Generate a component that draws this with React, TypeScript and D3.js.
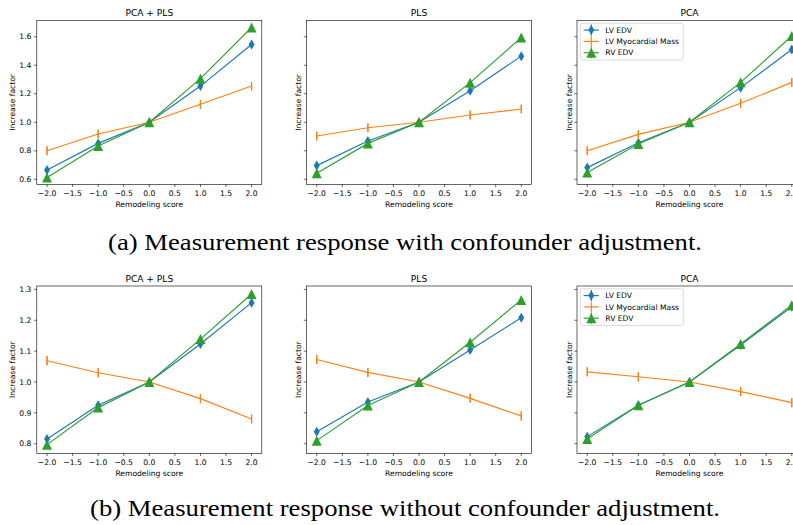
import React from 'react';
import * as d3 from 'd3';

// remodeling scores on the x axis
const scores = [-2, -1, 0, 1, 2];
const xTicks = [-2, -1.5, -1, -0.5, 0, 0.5, 1, 1.5, 2];
const panelTitles = ['PCA + PLS', 'PLS', 'PCA'];
const seriesNames = ['LV EDV', 'LV Myocardial Mass', 'RV EDV'];
const seriesColors = ['#1f77b4', '#ff7f0e', '#2ca02c'];

// (a) with confounder adjustment, one row per panel
const withLvEdv = [
  [0.665, 0.852, 1.0, 1.254, 1.546],
  [0.696, 0.869, 1.0, 1.221, 1.464],
  [0.682, 0.857, 1.0, 1.243, 1.511],
];
const withMass = [
  [0.8, 0.918, 1.0, 1.126, 1.254],
  [0.904, 0.962, 1.0, 1.051, 1.093],
  [0.8, 0.915, 1.0, 1.133, 1.28],
];
const withRvEdv = [
  [0.613, 0.834, 1.0, 1.306, 1.665],
  [0.642, 0.852, 1.0, 1.278, 1.595],
  [0.647, 0.848, 1.0, 1.28, 1.605],
];
const withErr = [0.02, 0.03, 0.01];
const withYTicks = [0.6, 0.8, 1.0, 1.2, 1.4, 1.6];

// (b) without confounder adjustment
const withoutLvEdv = [
  [0.815, 0.925, 1.0, 1.123, 1.257],
  [0.839, 0.935, 1.0, 1.104, 1.208],
  [0.823, 0.925, 1.0, 1.12, 1.244],
];
const withoutMass = [
  [1.069, 1.03, 1.0, 0.946, 0.88],
  [1.073, 1.031, 1.0, 0.947, 0.89],
  [1.033, 1.017, 1.0, 0.969, 0.933],
];
const withoutRvEdv = [
  [0.797, 0.917, 1.0, 1.139, 1.285],
  [0.81, 0.924, 1.0, 1.129, 1.266],
  [0.815, 0.925, 1.0, 1.123, 1.249],
];
const withoutErr = [0.01, 0.015, 0.005];
const withoutYTicks = [0.8, 0.9, 1.0, 1.1, 1.2, 1.3];

const captions = [
  '(a) Measurement response with confounder adjustment.',
  '(b) Measurement response without confounder adjustment.',
];

const FONT = 'DejaVu Sans';
const fs = 7.6;
const panelLefts = [36.8, 306.5, 577];
const panelW = 225;
const tickLen = 2.7;

const fmt = (v: number) => d3.format('.1f')(v).replace('-', '\u2212');

function Marker({ kind, x, y, color }: { kind: number; x: number; y: number; color: string }) {
  if (kind === 0) {
    return <path d={`M${x},${y - 5}L${x + 3},${y}L${x},${y + 5}L${x - 3},${y}Z`} fill={color} />;
  }
  if (kind === 2) {
    return <path d={`M${x},${y - 5}L${x + 5},${y + 5}L${x - 5},${y + 5}Z`} fill={color} />;
  }
  return null;
}

function Panel(props: {
  idx: number;
  top: number;
  bottom: number;
  domain: [number, number];
  yTicks: number[];
  series: number[][];
  err: number[];
  legend: boolean;
}) {
  const left = panelLefts[props.idx];
  const x = d3.scaleLinear().domain([-2.2, 2.2]).range([left, left + panelW]);
  const y = d3.scaleLinear().domain(props.domain).range([props.bottom, props.top]);
  const line = d3.line<number>().x((_, i) => x(scores[i])).y((d) => y(d));
  const midY = (props.top + props.bottom) / 2;

  return (
    <g fontFamily={FONT}>
      <text x={left + panelW / 2} y={props.top - 4.4} fontSize={9.1} textAnchor="middle">
        {panelTitles[props.idx]}
      </text>
      {props.series.map((vals, s) => (
        <g key={s}>
          <path d={line(vals) || ''} fill="none" stroke={seriesColors[s]} strokeWidth={1.15} />
          {vals.map((v, i) => (
            <g key={i}>
              <line
                x1={x(scores[i])}
                x2={x(scores[i])}
                y1={y(v - props.err[s])}
                y2={y(v + props.err[s])}
                stroke={seriesColors[s]}
                strokeWidth={1.15}
              />
              {s === 1 && (
                <line x1={x(scores[i])} x2={x(scores[i])} y1={y(v) - 4.5} y2={y(v) + 4.5} stroke={seriesColors[s]} strokeWidth={1.15} />
              )}
              <Marker kind={s} x={x(scores[i])} y={y(v)} color={seriesColors[s]} />
            </g>
          ))}
        </g>
      ))}
      <rect x={left} y={props.top} width={panelW} height={props.bottom - props.top} fill="none" stroke="#000" strokeWidth={0.6} />
      {xTicks.map((t) => (
        <g key={t}>
          <line x1={x(t)} x2={x(t)} y1={props.bottom} y2={props.bottom + tickLen} stroke="#000" strokeWidth={0.6} />
          <text x={x(t)} y={props.bottom + 11.2} fontSize={fs} textAnchor="middle">
            {fmt(t)}
          </text>
        </g>
      ))}
      {props.yTicks.map((t) => (
        <g key={t}>
          <line x1={left - tickLen} x2={left} y1={y(t)} y2={y(t)} stroke="#000" strokeWidth={0.6} />
          {props.idx === 0 && (
            <text x={left - 5.4} y={y(t) + 2.7} fontSize={fs} textAnchor="end">
              {fmt(t)}
            </text>
          )}
        </g>
      ))}
      <text x={left + panelW / 2} y={props.bottom + 22.5} fontSize={fs} textAnchor="middle">
        Remodeling score
      </text>
      <text
        transform={`translate(${props.idx === 0 ? left - 21.5 : left - 5.5},${midY}) rotate(-90)`}
        fontSize={fs}
        textAnchor="middle"
      >
        Increase factor
      </text>
      {props.legend && (
        <g transform={`translate(${left + 3.3},${props.top + 2.8})`}>
          <rect x={0} y={0} width={103} height={36.7} rx={2} fill="#fff" fillOpacity={0.8} stroke="#cccccc" strokeWidth={0.7} />
          {seriesNames.map((name, s) => {
            const cy = 6.8 + s * 11.3;
            return (
              <g key={name}>
                <line x1={3.3} x2={18.6} y1={cy} y2={cy} stroke={seriesColors[s]} strokeWidth={1.15} />
                <line x1={11} x2={11} y1={cy - 5.5} y2={cy + 5.5} stroke={seriesColors[s]} strokeWidth={1.15} />
                <Marker kind={s} x={11} y={cy} color={seriesColors[s]} />
                <text x={25} y={cy + 2.7} fontSize={fs}>
                  {name}
                </text>
              </g>
            );
          })}
        </g>
      )}
    </g>
  );
}

export default function App() {
  return (
    <svg width={793} height={525} style={{ position: 'absolute', left: 0, top: 0, background: '#fff' }}>
      {panelTitles.map((_, p) => (
        <Panel
          key={'a' + p}
          idx={p}
          top={20.5}
          bottom={184.3}
          domain={[0.565, 1.714]}
          yTicks={withYTicks}
          series={[withLvEdv[p], withMass[p], withRvEdv[p]]}
          err={withErr}
          legend={p === 2}
        />
      ))}
      {panelTitles.map((_, p) => (
        <Panel
          key={'b' + p}
          idx={p}
          top={286}
          bottom={453.3}
          domain={[0.769, 1.311]}
          yTicks={withoutYTicks}
          series={[withoutLvEdv[p], withoutMass[p], withoutRvEdv[p]]}
          err={withoutErr}
          legend={p === 2}
        />
      ))}
      <text x={405} y={250} fontFamily="Liberation Serif" fontSize={23} textAnchor="middle" textLength={594} lengthAdjust="spacingAndGlyphs">
        {captions[0]}
      </text>
      <text x={405} y={515.5} fontFamily="Liberation Serif" fontSize={23} textAnchor="middle" textLength={630} lengthAdjust="spacingAndGlyphs">
        {captions[1]}
      </text>
    </svg>
  );
}
